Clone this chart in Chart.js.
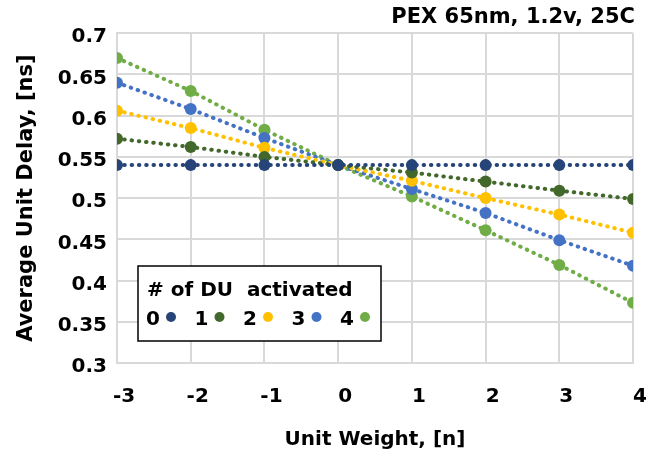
<!DOCTYPE html>
<html>
<head>
<meta charset="utf-8">
<script src="https://cdn.jsdelivr.net/npm/chart.js@4.4.1/dist/chart.umd.min.js"></script>
<style>
    html, body { margin: 0; padding: 0; background: #fff; }
    #wrap { width: 662px; height: 454px; position: relative; }
</style>
</head>
<body>
<div id="wrap"><canvas id="delay-chart"></canvas></div>
<script>
const unitWeights = [-3, -2, -1, 0, 1, 2, 3, 4];
const duLabels = ["0", "1", "2", "3", "4"];
const du0 = [0.54, 0.54, 0.54, 0.54, 0.54, 0.54, 0.54, 0.54];
const du1 = [0.572, 0.562, 0.55, 0.54, 0.531, 0.52, 0.509, 0.499];
const du2 = [0.606, 0.585, 0.561, 0.54, 0.521, 0.5, 0.48, 0.458];
const du3 = [0.64, 0.608, 0.573, 0.54, 0.511, 0.482, 0.449, 0.418];
const du4 = [0.67, 0.63, 0.583, 0.54, 0.502, 0.461, 0.419, 0.373];
const yTickValues = [0.3, 0.35, 0.4, 0.45, 0.5, 0.55, 0.6, 0.65, 0.7];

const seriesColors = ["#264478", "#43682b", "#ffc000", "#4472c4", "#70ad47"];
const FONT = "'DejaVu Sans', 'Liberation Sans', Arial, sans-serif";

function makeDataset(label, values, color) {
    return {
        label: label,
        data: values.map((v, i) => ({ x: unitWeights[i], y: v })),
        borderColor: color,
        backgroundColor: color,
        borderWidth: 4,
        borderDash: [0.5, 6.8],
        borderCapStyle: "round",
        pointRadius: 6,
        pointHoverRadius: 6,
        pointBorderWidth: 0,
        tension: 0,
    };
}

// Boxed legend in the lower-left of the plot
const duLegend = {
    id: "duLegend",
    afterDraw(chart) {
        const ctx = chart.ctx;
        const x0 = 138, y0 = 266, w = 243, h = 75;
        ctx.save();
        ctx.fillStyle = "#fff";
        ctx.fillRect(x0, y0, w, h);
        ctx.strokeStyle = "#000";
        ctx.lineWidth = 1.5;
        ctx.strokeRect(x0, y0, w, h);

        ctx.fillStyle = "#000";
        ctx.font = "bold 20px " + FONT;
        ctx.textBaseline = "middle";
        ctx.textAlign = "left";
        ctx.fillText("# of DU  activated", x0 + 9, y0 + 25);

        chart.data.datasets.forEach((ds, i) => {
            const cx = x0 + 15 + i * 48.5;
            ctx.fillStyle = "#000";
            ctx.font = "bold 20px " + FONT;
            ctx.textAlign = "center";
            ctx.fillText(ds.label, cx, y0 + 54);
            ctx.beginPath();
            ctx.arc(cx + 18, y0 + 51, 5, 0, Math.PI * 2);
            ctx.fillStyle = ds.borderColor;
            ctx.fill();
        });
        ctx.restore();
    },
};

function delayChart() {
    const chartEl = document.getElementById("delay-chart");
    const ctx = chartEl.getContext("2d");

    const config = {
        type: "line",
        data: {
            datasets: [
                makeDataset(duLabels[0], du0, seriesColors[0]),
                makeDataset(duLabels[1], du1, seriesColors[1]),
                makeDataset(duLabels[2], du2, seriesColors[2]),
                makeDataset(duLabels[3], du3, seriesColors[3]),
                makeDataset(duLabels[4], du4, seriesColors[4]),
            ],
        },
        options: {
            responsive: true,
            maintainAspectRatio: false,
            animation: false,
            layout: { padding: { left: 0, right: 27, top: 0, bottom: 0 } },
            plugins: {
                legend: { display: false },
                tooltip: { enabled: false },
                title: {
                    display: true,
                    text: "PEX 65nm, 1.2v, 25C",
                    align: "end",
                    color: "#000",
                    font: { family: FONT, size: 21, weight: "bold" },
                    padding: { top: 5, bottom: 3 },
                },
            },
            scales: {
                x: {
                    type: "linear",
                    min: -3,
                    max: 4,
                    afterBuildTicks: (axis) => {
                        axis.ticks = unitWeights.map((v) => ({ value: v }));
                    },
                    afterFit: (axis) => {
                        axis.height = 91;
                    },
                    grid: { color: "#d9d9d9", lineWidth: 2, drawTicks: false },
                    border: { color: "#d9d9d9", width: 2 },
                    ticks: {
                        color: "#000",
                        font: { family: FONT, size: 20, weight: "bold" },
                        padding: 22,
                        labelOffset: 7,
                        maxRotation: 0,
                    },
                    title: {
                        display: true,
                        text: "Unit Weight, [n]",
                        color: "#000",
                        font: { family: FONT, size: 20, weight: "bold" },
                        padding: { top: 0, bottom: 2 },
                    },
                },
                y: {
                    min: 0.3,
                    max: 0.7,
                    afterBuildTicks: (axis) => {
                        axis.ticks = yTickValues.map((v) => ({ value: v }));
                    },
                    afterFit: (axis) => {
                        axis.width = 117;
                    },
                    grid: { color: "#d9d9d9", lineWidth: 2, drawTicks: false },
                    border: { color: "#d9d9d9", width: 2 },
                    ticks: {
                        color: "#000",
                        font: { family: FONT, size: 20, weight: "bold" },
                        padding: 10,
                        labelOffset: 4,
                        callback: (v) => String(+v.toFixed(2)),
                    },
                    title: {
                        display: true,
                        text: "Average Unit Delay, [ns]",
                        color: "#000",
                        font: { family: FONT, size: 21, weight: "bold" },
                        padding: { top: 14, bottom: 0 },
                    },
                },
            },
        },
        plugins: [duLegend],
    };

    new Chart(ctx, config);
}

document.addEventListener("DOMContentLoaded", delayChart);
</script>
</body>
</html>
